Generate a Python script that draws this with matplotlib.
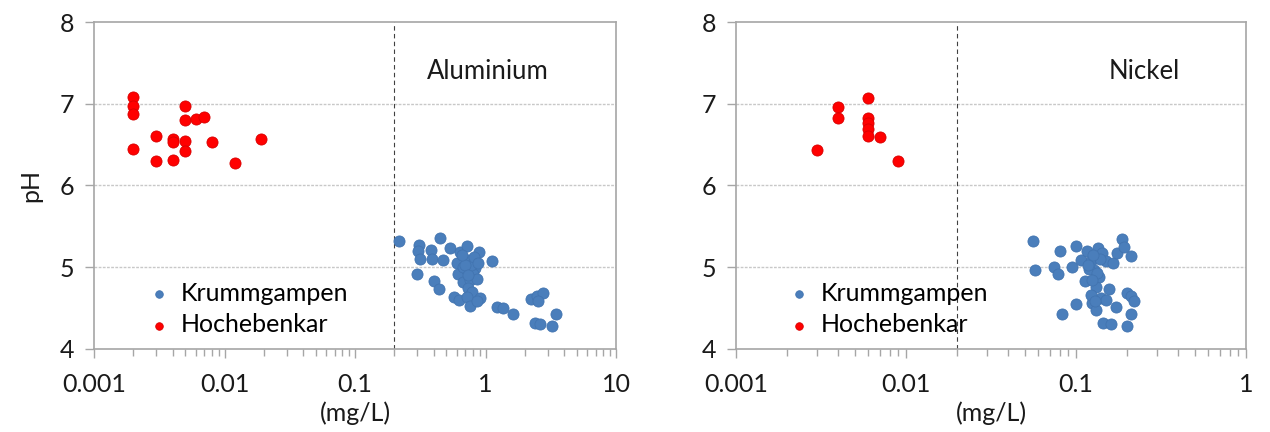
import numpy as np
import matplotlib.pyplot as plt
from matplotlib.ticker import LogLocator, NullFormatter

plt.rcParams['font.family'] = ['Lato', 'DejaVu Sans']

# Aluminium - Hochebenkar (red)
al_hoch_x = [0.002, 0.002, 0.002, 0.002, 0.003, 0.003, 0.004, 0.004, 0.004,
             0.005, 0.005, 0.005, 0.005, 0.006, 0.007, 0.008, 0.012, 0.019]
al_hoch_ph = [7.08, 6.97, 6.88, 6.45, 6.61, 6.30, 6.57, 6.53, 6.31,
              6.97, 6.80, 6.55, 6.42, 6.82, 6.84, 6.53, 6.27, 6.57]

# Aluminium - Krummgampen (blue)
al_krum_x = [0.217, 0.311, 0.306, 0.315, 0.382, 0.387, 0.448, 0.470, 0.300,
             0.403, 0.438, 0.534, 0.638, 0.726, 0.896, 1.116, 0.608, 0.726,
             0.831, 0.618, 0.718, 0.806, 0.669, 0.761, 0.738, 0.784, 0.676,
             0.857, 0.574, 0.630, 0.726, 0.761, 0.908, 0.857, 1.22, 1.37,
             1.62, 2.22, 2.47, 2.77, 2.54, 3.47, 2.39, 2.62, 3.25, 0.78,
             0.70, 0.82, 0.74, 0.66, 0.88]
al_krum_ph = [5.32, 5.27, 5.20, 5.10, 5.21, 5.10, 5.36, 5.09, 4.92,
              4.83, 4.73, 5.24, 5.19, 5.26, 5.18, 5.07, 5.05, 5.09,
              4.99, 4.92, 4.96, 4.92, 4.82, 4.84, 4.74, 4.70, 5.00,
              4.86, 4.63, 4.60, 4.63, 4.52, 4.62, 4.58, 4.51, 4.50,
              4.42, 4.61, 4.64, 4.68, 4.58, 4.43, 4.32, 4.30, 4.28, 5.03,
              5.02, 5.12, 4.90, 5.15, 5.05]

# Nickel - Hochebenkar (red)
ni_hoch_x = [0.003, 0.004, 0.004, 0.006, 0.006, 0.006, 0.006, 0.006, 0.007, 0.009]
ni_hoch_ph = [6.44, 6.96, 6.83, 7.07, 6.83, 6.76, 6.69, 6.61, 6.59, 6.30]

# Nickel - Krummgampen (blue)
ni_krum_x = [0.0558, 0.0571, 0.0743, 0.0787, 0.0802, 0.083, 0.095, 0.1005,
             0.0996, 0.1066, 0.113, 0.1165, 0.122, 0.135, 0.143, 0.128, 0.137,
             0.131, 0.150, 0.164, 0.125, 0.132, 0.140, 0.151, 0.156, 0.171,
             0.145, 0.160, 0.175, 0.186, 0.192, 0.210, 0.200, 0.210, 0.219,
             0.210, 0.200, 0.120, 0.127, 0.133, 0.118, 0.125, 0.138, 0.123,
             0.130, 0.126]
ni_krum_ph = [5.32, 4.96, 5.00, 4.91, 5.20, 4.42, 5.00, 5.26,
              4.55, 5.09, 4.83, 5.20, 5.07, 5.23, 5.17, 4.96, 4.88,
              4.76, 5.07, 5.05, 4.56, 4.48, 4.62, 4.60, 4.73, 4.51,
              4.32, 4.30, 5.17, 5.35, 5.25, 5.13, 4.68, 4.64, 4.59,
              4.43, 4.28, 4.98, 5.12, 4.93, 5.02, 4.84, 5.10, 4.66,
              4.58, 5.15]

blue = '#4a7ebb'
red = '#ff0000'
grey = '#a6a6a6'
txt = '#1a1a1a'

fig = plt.figure(figsize=(12.7, 4.32), dpi=100)
ax1 = fig.add_axes([94 / 1270, 83.3 / 432, 522 / 1270, 326.4 / 432])
ax2 = fig.add_axes([736 / 1270, 83.3 / 432, 510 / 1270, 326.4 / 432])

panels = [
    (ax1, al_krum_x, al_krum_ph, al_hoch_x, al_hoch_ph, (0.001, 10), 0.2, 'Aluminium', 0.755, 0.072),
    (ax2, ni_krum_x, ni_krum_ph, ni_hoch_x, ni_hoch_ph, (0.001, 1), 0.02, 'Nickel', 0.80, 0.07),
]

for ax, kx, kp, hx, hp, xlim, vline, name, name_x, leg_x in panels:
    ax.scatter(kx, kp, s=64, color=blue, edgecolors='#4274b0', linewidths=0.6,
               label='Krummgampen', zorder=3)
    ax.scatter(hx, hp, s=64, color=red, edgecolors='#d80000', linewidths=0.6,
               label='Hochebenkar', zorder=3)
    ax.set_xscale('log')
    ax.set_xlim(*xlim)
    ax.set_ylim(4, 8)
    ax.set_yticks([4, 5, 6, 7, 8])
    ax.xaxis.set_minor_locator(LogLocator(base=10, subs=np.arange(2, 10), numticks=20))
    ax.xaxis.set_minor_formatter(NullFormatter())
    ticks = [t for t in [0.001, 0.01, 0.1, 1, 10] if t <= xlim[1]]
    ax.set_xticks(ticks)
    ax.set_xticklabels([('%g' % t) for t in ticks])
    for y in [5, 6, 7]:
        ax.axhline(y, color='#c8c8c8', lw=1.0, ls=(0, (2, 1)), zorder=1)
    ax.axvline(vline, color='#404040', lw=0.8, ls=(0, (4, 3)), zorder=2)
    for sp in ax.spines.values():
        sp.set_color(grey)
        sp.set_linewidth(1.2)
    ax.tick_params(axis='both', which='major', direction='out', length=6.5,
                   width=1, color=grey, labelsize=18, pad=8, labelcolor=txt)
    ax.tick_params(axis='x', which='major', pad=11)
    ax.tick_params(axis='x', which='minor', direction='out', length=5,
                   width=1, color=grey)
    ax.set_xlabel('(mg/L)', fontsize=18, labelpad=4, color=txt)
    ax.text(name_x, 0.848, name, transform=ax.transAxes, fontsize=18.5,
            ha='center', va='center', color=txt)
    ax.legend(loc='lower left', bbox_to_anchor=(leg_x, 0.008), frameon=False,
              fontsize=18, markerscale=0.68, handletextpad=0.15,
              labelspacing=0.33, borderaxespad=0, handlelength=1.4)

ax1.set_ylabel('pH', fontsize=18, labelpad=12, color=txt)

fig.savefig('out.png', dpi=100)
